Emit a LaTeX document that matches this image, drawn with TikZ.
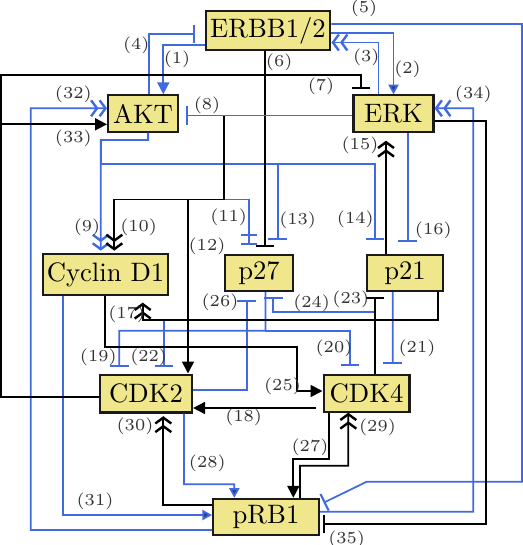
\documentclass[tikz,border=0pt]{standalone}
\usetikzlibrary{arrows.meta,calc}
\definecolor{ink}{HTML}{1A1A1A}
\definecolor{genefill}{HTML}{F0E68C}
\definecolor{netblue}{HTML}{4169E1}
\definecolor{tipblue}{HTML}{24408F}
\definecolor{numgray}{HTML}{333333}

\begin{document}
\begin{tikzpicture}[
  x=0.375pt, y=-0.375pt,
  gene/.style={draw=ink, fill=genefill, line width=0.8pt, minimum height=13.6pt, inner sep=1pt},
  blackln/.style={draw=black, line width=0.65pt},
  blueln/.style={draw=netblue, line width=0.65pt},
  act/.style={-{Triangle[length=4.5pt,width=4.5pt]}},
  actsm/.style={-{Triangle[length=3.6pt,width=3.8pt,fill=tipblue]}},
  dact/.style={-{Straight Barb[length=2.2pt,width=6pt,line width=0.9pt,sep=0pt]Straight Barb[length=2.2pt,width=6pt,line width=0.9pt]}},
  inh/.style={-{Bar[width=7pt,line width=0.8pt]}},
  inhtwo/.style={-{Bar[width=6pt,line width=0.8pt,sep=2.6pt]Bar[width=6pt,line width=0.8pt]}},
  lbl/.style={font=\fontsize{6.3}{7}\selectfont, text=numgray, inner sep=0pt},
]
\useasboundingbox (0,0) rectangle (523,545);

% ---- species ----
\node[gene, minimum width=46.8pt, minimum height=14.6pt] (ERBB) at (268,30.5) {ERBB1/2};
\node[gene, minimum width=26.2pt] (AKT) at (143,113.5) {AKT};
\node[gene, minimum width=30pt] (ERK) at (393.5,113.5) {ERK};
\node[gene, minimum width=46.8pt, minimum height=15.1pt] (CycD1) at (105.5,274.5) {Cyclin D1};
\node[gene, minimum width=25.8pt] (p27) at (259,273) {p27};
\node[gene, minimum width=28.5pt] (p21) at (405,273) {p21};
\node[gene, minimum width=34.5pt, minimum height=14.2pt] (CDK2) at (146,393.5) {CDK2};
\node[gene, minimum width=32.2pt] (CDK4) at (366.5,393.5) {CDK4};
\node[gene, minimum width=39.7pt] (pRB1) at (266,517) {pRB1};

% ---- blue interactions ----
\draw[blueln, act] ($(ERBB.west)+(0,14.5)$) -| ($(AKT.north)+(20.3,0)$);
\draw[blueln, inh, shorten >=3.4pt] ($(AKT.north)+(6.3,0)$) |- ($(ERBB.west)+(0,3.5)$);
\draw[blueln, actsm] ($(ERBB.east)+(0,2.5)$) -| (ERK.north);
\draw[blueln, dact] ($(ERK.north)+(-15,0)$) |- ($(ERBB.east)+(0,12)$);
\draw[blueln, inh, shorten >=1.5pt] ($(ERBB.east)+(0,-6.5)$) -| (522,481.7) -- (366.7,481.7) -- ($(pRB1.east)+(0,-12.5)$);
% AKT -> Cyclin D1, AKT -| p27, p21
\draw[blueln, dact, shorten >=1pt] ($(AKT.south)+(5.3,0)$) |- (100.7,140) -- ($(CycD1.north)+(-4.8,0)$);
\draw[blueln, inh, shorten >=5.2pt] ($(AKT.south)+(5.3,0)$) |- (100.7,140) |- (277.7,164) -- ($(p27.north)+(18.7,0)$);
\draw[blueln, inh, shorten >=5pt] ($(AKT.south)+(5.3,0)$) |- (100.7,140) |- (375,164) -- ($(p21.north)+(-30,0)$);
\draw[blueln, inhtwo, shorten >=3.4pt] ($(ERK.west)+(0,2)$) -| (224.3,199.5) -| ($(p27.north)+(-9.7,0)$);
\draw[blueln, inh, shorten >=4.4pt] ($(ERK.south)+(14.2,0)$) -- ($(p21.north)+(2.7,0)$);
% inhibitors of the CDKs
\draw[blueln, inh, shorten >=2.3pt] ($(p21.south)+(33.3,0)$) |- (164,320) -- ($(CDK2.north)+(18,0)$);
\draw[blueln, inh, shorten >=2.3pt] ($(p27.south)+(6.5,0)$) |- (119.3,330.7) -- ($(CDK2.north)+(-26.7,0)$);
\draw[blueln, inh, shorten >=3.2pt] ($(p27.south)+(6.5,0)$) |- (350,330.7) -- ($(CDK4.north)+(-16.5,0)$);
\draw[blueln, inh, shorten >=3.9pt] ($(p21.south)+(-12.3,0)$) -- ($(CDK4.north)+(26.2,0)$);
\draw[blueln, inh, shorten >=1.8pt] ($(CDK4.north)+(8.5,0)$) |- (273.3,311.7) -- ($(p27.south)+(14.3,0)$);
\draw[blueln, inh, shorten >=3pt] ($(CDK2.east)+(0,-3.5)$) -| ($(p27.south)+(-12.3,0)$);
% towards pRB1 and back
\draw[blueln, actsm] ($(CDK2.south)+(38,0)$) |- (234.3,484.3) -- ($(pRB1.north)+(-31.7,0)$);
\draw[blueln, actsm] ($(CycD1.south)+(-42.2,0)$) |- ($(pRB1.west)+(0,-2)$);
\draw[blueln, dact] ($(pRB1.west)+(0,13)$) -| (30.7,108.3) -- ($(AKT.west)+(0,-5.2)$);
\draw[blueln, dact] ($(pRB1.east)+(0,-5.3)$) -| (473.3,108.3) -- ($(ERK.east)+(0,-5.2)$);

% ---- black interactions ----
\draw[blackln, inh, shorten >=2.6pt] ($(ERBB.south)+(-3,0)$) -- ($(p27.north)+(6,0)$);
\draw[blackln, inh, shorten >=2pt] ($(CDK2.west)+(0,3.8)$) -| (1,75) -| ($(ERK.north)+(-32.5,0)$);
\draw[blackln, act] ($(CDK2.west)+(0,3.8)$) -| (1,124.3) -- ($(AKT.west)+(0,10.8)$);
\draw[blackln, dact, shorten >=1pt] ($(ERK.west)+(0,2)$) -| (224.3,199.5) -| ($(CycD1.north)+(8.8,0)$);
\draw[blackln, act] ($(ERK.west)+(0,2)$) -| (224.3,199.5) -| ($(CDK2.north)+(42,0)$);
\draw[blackln, dact, shorten >=3pt] ($(p21.north)+(-19,0)$) -- ($(ERK.south)+(-7.5,0)$);
\draw[blackln, dact, shorten >=2.6pt] ($(p21.south)+(33.3,0)$) |- (142.7,320) -- ($(CycD1.south)+(37.2,0)$);
\draw[blackln, inh, shorten >=1.9pt] ($(CDK4.north)+(8.5,0)$) -- ($(p21.south)+(-30,0)$);
\draw[blackln, act] ($(CycD1.south)+(-0.5,0)$) |- (296.7,346.7) |- ($(CDK4.west)+(0,-2.5)$);
\draw[blackln, act, shorten <=2.6pt] ($(CDK4.west)+(0,14.5)$) -- ($(CDK2.east)+(0,14.5)$);
\draw[blackln, act] ($(CDK4.south)+(-37.2,0)$) |- (293.3,459) -- ($(pRB1.north)+(27.3,0)$);
\draw[blackln, dact] ($(pRB1.north)+(34,0)$) |- (348.3,465.7) -- ($(CDK4.south)+(-18.2,0)$);
\draw[blackln, dact, shorten >=1pt] ($(pRB1.west)+(0,-12)$) -| ($(CDK2.south)+(17.3,0)$);
\draw[blackln, inh, shorten >=1.2pt] ($(ERK.east)+(0,7.5)$) -| (486,524) -- ($(pRB1.east)+(0,7)$);

% ERK -| AKT on top of the shared stretch
\draw[blueln, inh, shorten >=2.6pt] ($(ERK.west)+(0,2)$) -- ($(AKT.east)+(0,2)$);

% ---- interaction numbers ----
\node[lbl] (l1) at (177,59) {(1)};
\node[lbl] (l2) at (407.5,69) {(2)};
\node[lbl] (l3) at (366.3,57.5) {(3)};
\node[lbl] (l4) at (136.3,45.8) {(4)};
\node[lbl] (l5) at (364,8) {(5)};
\node[lbl] (l6) at (279.2,62.5) {(6)};
\node[lbl] (l7) at (321,86.5) {(7)};
\node[lbl] (l8) at (207,105.8) {(8)};
\node[lbl] (l9) at (87,227) {(9)};
\node[lbl] (l10) at (138.7,227) {(10)};
\node[lbl] (l11) at (228.7,217.5) {(11)};
\node[lbl] (l12) at (207,246) {(12)};
\node[lbl] (l13) at (297.7,220) {(13)};
\node[lbl] (l14) at (355.3,219.7) {(14)};
\node[lbl] (l15) at (360,145.3) {(15)};
\node[lbl] (l16) at (433.3,230.5) {(16)};
\node[lbl] (l17) at (126.7,314) {(17)};
\node[lbl] (l18) at (243.7,417.5) {(18)};
\node[lbl] (l19) at (98.3,357.5) {(19)};
\node[lbl] (l20) at (334,348) {(20)};
\node[lbl] (l21) at (417,348.7) {(21)};
\node[lbl] (l22) at (148.7,357.5) {(22)};
\node[lbl] (l23) at (350.8,299) {(23)};
\node[lbl] (l24) at (311.7,303.7) {(24)};
\node[lbl] (l25) at (282.5,386.5) {(25)};
\node[lbl] (l26) at (220,302.5) {(26)};
\node[lbl] (l27) at (310,447) {(27)};
\node[lbl] (l28) at (207.3,463.7) {(28)};
\node[lbl] (l29) at (377.5,427) {(29)};
\node[lbl] (l30) at (135,426) {(30)};
\node[lbl] (l31) at (95,500.8) {(31)};
\node[lbl] (l32) at (73.3,94.7) {(32)};
\node[lbl] (l33) at (73.3,138) {(33)};
\node[lbl] (l34) at (473.3,94.2) {(34)};
\node[lbl] (l35) at (346.7,539) {(35)};
\end{tikzpicture}
\end{document}
